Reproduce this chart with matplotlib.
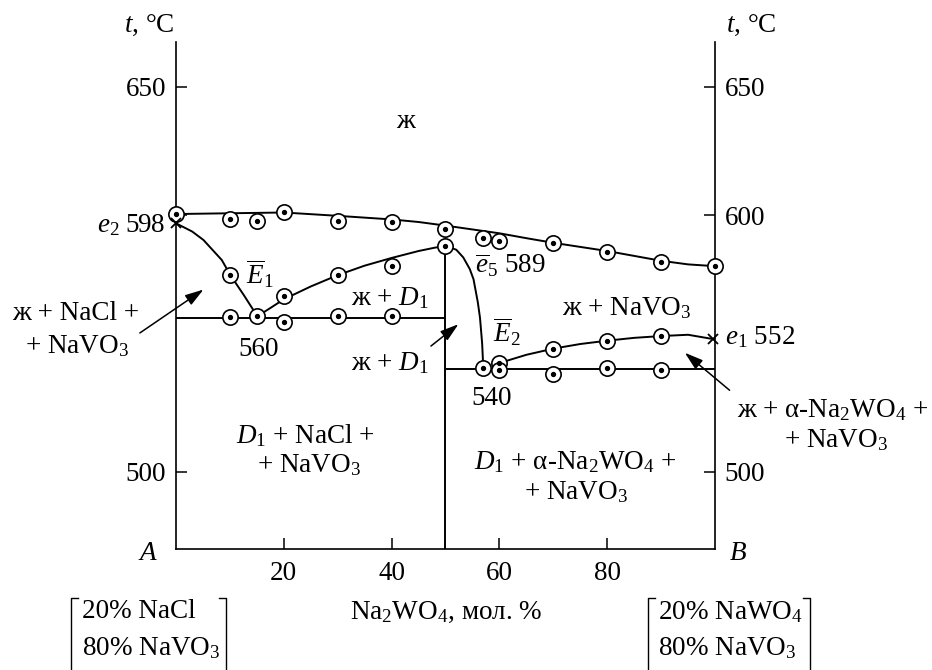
import matplotlib
matplotlib.use("Agg")
import matplotlib.pyplot as plt

plt.rcParams['font.family'] = ['Liberation Serif', 'DejaVu Serif']
plt.rcParams['mathtext.fontset'] = 'custom'
plt.rcParams['mathtext.rm'] = 'Liberation Serif'
plt.rcParams['mathtext.it'] = 'Liberation Serif:italic'
plt.rcParams['mathtext.bf'] = 'Liberation Serif:bold'

# ========================
# Data (Na2WO4, mol. % / t, °C)
# ========================
# liquidus (primary crystallisation of NaVO3 / NaCl)
liq_x = [0, 10, 20, 30, 40, 45, 50, 55, 60, 65, 70, 75, 80, 85, 90, 95, 100]
liq_t = [600.4, 600.7, 601.0, 599.7, 598.3, 597.3, 595.9, 594.4, 592.9, 591.0,
         589.2, 587.6, 586.0, 584.1, 582.2, 580.8, 580.1]

# e2 -> E1
e2E1_x = [0, 3, 5.1, 8.5, 10.1, 12.6, 15.1]
e2E1_t = [596.8, 593.6, 590.3, 582.5, 576.6, 568.8, 560.6]

# E1 -> D1 (maximum)
E1D1_x = [15.1, 17.5, 20, 25, 30, 35, 40, 45, 48, 50]
E1D1_t = [560.6, 563.8, 567.2, 572.2, 576.6, 580.3, 583.3, 586.0, 587.3, 588.0]

# D1 -> E2
D1E2_x = [50, 52, 53.3, 54.5, 55.2, 56.0, 56.4, 56.8, 57.0]
D1E2_t = [588.0, 586.5, 583.5, 579.0, 575.0, 566.0, 560.0, 550.0, 541.0]

# E2 -> e1
E2e1_x = [60, 65, 70, 75, 80, 85, 90, 95, 100]
E2e1_t = [542.4, 545.6, 548.0, 549.8, 551.1, 552.2, 552.9, 553.4, 551.6]

# invariant lines
solidus1_x = [0, 50]
solidus1_t = [560, 560]
solidus2_x = [50, 100]
solidus2_t = [540, 540]
d1_x = [50, 50]
d1_t = [470, 588]

# experimental points
pts_x = [0, 10, 15, 20, 30, 40, 50, 57, 60, 70, 80, 90, 100,
         10, 20, 30, 40, 50,
         10, 15, 20, 30, 40,
         57, 60, 60, 70, 80, 90,
         70, 80, 90]
pts_t = [600.5, 598.3, 597.7, 601.2, 597.8, 597.2, 594.5, 591.2, 590.0, 589.0, 585.7, 581.8, 580.0,
         576.6, 568.5, 576.6, 580.1, 588.0,
         560.4, 560.7, 558.5, 560.7, 560.7,
         540.3, 542.4, 539.6, 538.3, 540.5, 539.6,
         548.0, 551.0, 552.9]

# eutectics (crosses)
eut_x = [0, 99.7]
eut_t = [596.8, 551.6]

xticks = [20, 40, 60, 80]
yticks = [500, 600, 650]

# ========================
# Figure
# ========================
fig = plt.figure(figsize=(9.32, 6.70), dpi=100)
ax = fig.add_axes([0.1888, 0.1806, 0.5784, 0.7572])
ax.set_xlim(0, 100)
ax.set_ylim(470, 667.5)

lw = 1.4
k = 'black'
for xs, ts in [(liq_x, liq_t), (e2E1_x, e2E1_t), (E1D1_x, E1D1_t), (D1E2_x, D1E2_t),
               (E2e1_x, E2e1_t), (solidus1_x, solidus1_t), (solidus2_x, solidus2_t),
               (d1_x, d1_t)]:
    ax.plot(xs, ts, color=k, lw=lw, zorder=2, clip_on=False, solid_capstyle='butt')

ax.plot(pts_x, pts_t, 'o', ms=11, mfc='white', mec=k, mew=1.2, zorder=3, clip_on=False)
ax.plot(pts_x, pts_t, 'o', ms=2.8, color=k, zorder=4, clip_on=False)
ax.plot(eut_x, eut_t, 'x', ms=7, mew=1.3, color=k, zorder=4, clip_on=False)

fs = 19.5

# axes style
ax.spines['top'].set_visible(False)
for s in ['left', 'right', 'bottom']:
    ax.spines[s].set_linewidth(1.2)
ax.set_xticks(xticks)
ax.set_yticks(yticks)
ax.tick_params(axis='x', direction='in', length=8, width=1.1, labelsize=fs, pad=9)
ax.tick_params(axis='y', direction='in', length=8, width=1.1, labelsize=fs, pad=7,
               right=True, labelright=True)
# left side shows e2 598 instead of 600
ax.yaxis.get_major_ticks()[1].label1.set_visible(False)

tk = dict(fontsize=fs, clip_on=False)

ax.text(-0.3, 674, '$t$, °C', ha='right', va='center', **tk)
ax.text(102, 674, '$t$, °C', ha='left', va='center', **tk)
ax.text(-5.2, 468.2, '$A$', ha='center', va='center', **tk)
ax.text(104.2, 468.2, '$B$', ha='center', va='center', **tk)

ax.text(42.5, 636.3, 'ж', ha='center', va='center', **tk)
ax.text(-1.9, 596.1, '$e_2$ 598', ha='right', va='center', **tk)
ax.text(15.6, 577.3, r'$\overline{E}_1$', ha='center', va='center', **tk)
ax.text(39.7, 567.5, 'ж + $D_1$', ha='center', va='center', **tk)
ax.text(15.3, 547.7, '560', ha='center', va='center', **tk)
ax.text(39.7, 542.2, 'ж + $D_1$', ha='center', va='center', **tk)
ax.text(62.1, 580.5, r'$\overline{e}_5$ 589', ha='center', va='center', **tk)
ax.text(83.6, 563.7, 'ж + NaVO$_3$', ha='center', va='center', **tk)
ax.text(61.3, 554.5, r'$\overline{E}_2$', ha='center', va='center', **tk)
ax.text(58.6, 528.6, '540', ha='center', va='center', **tk)
ax.text(101.9, 552.6, '$e_1$ 552', ha='left', va='center', **tk)

ax.text(-18.7, 561.8, 'ж + NaCl +', ha='center', va='center', **tk)
ax.text(-18.3, 549.0, '+ NaVO$_3$', ha='center', va='center', **tk)
ax.text(24.1, 514.3, '$D_1$ + NaCl +', ha='center', va='center', **tk)
ax.text(24.6, 502.6, '+ NaVO$_3$', ha='center', va='center', **tk)
ax.text(74.0, 503.9, '$D_1$ + α-Na$_2$WO$_4$ +', ha='center', va='center', **tk)
ax.text(74.2, 492.2, '+ NaVO$_3$', ha='center', va='center', **tk)
ax.text(104.0, 524.0, 'ж + α-Na$_2$WO$_4$ +', ha='left', va='center', **tk)
ax.text(122.4, 512.3, '+ NaVO$_3$', ha='center', va='center', **tk)

# arrows
ap = dict(arrowstyle='-|>,head_length=0.7,head_width=0.22', color=k, lw=1.1,
          mutation_scale=16, shrinkA=0, shrinkB=0)
ax.annotate('', xy=(5.1, 571.0), xytext=(-6.7, 554.1), arrowprops=ap, annotation_clip=False)
ax.annotate('', xy=(52.4, 557.5), xytext=(47.3, 549.0), arrowprops=ap, annotation_clip=False)
ax.annotate('', xy=(94.4, 546.4), xytext=(102.7, 531.8), arrowprops=ap, annotation_clip=False)

# x-axis caption and end compositions
ax.text(50.1, 445.5, 'Na$_2$WO$_4$, мол. %', ha='center', va='center', **tk)
ax.text(-17.5, 445.5, '20% NaCl', ha='left', va='center', **tk)
ax.text(-17.5, 431.3, '80% NaVO$_3$', ha='left', va='center', **tk)
ax.text(89.5, 445.5, '20% NaWO$_4$', ha='left', va='center', **tk)
ax.text(89.5, 431.3, '80% NaVO$_3$', ha='left', va='center', **tk)

# brackets around end compositions
for xl, xr in [(-19.4, 9.3), (87.6, 117.6)]:
    ax.plot([xl + 1.3, xl, xl], [450.8, 450.8, 420], color=k, lw=1.0, clip_on=False)
    ax.plot([xr - 1.3, xr, xr], [450.8, 450.8, 420], color=k, lw=1.0, clip_on=False)

fig.savefig('out.png', dpi=100)
